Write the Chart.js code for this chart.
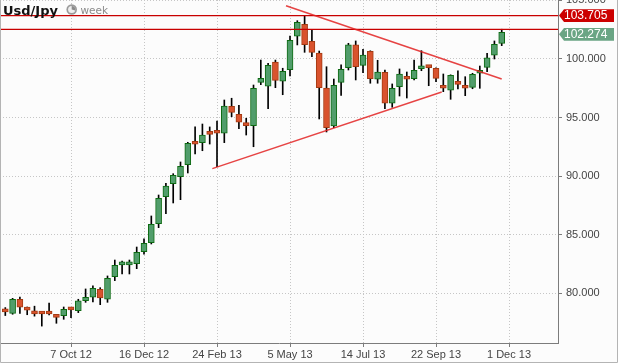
<!DOCTYPE html>
<html>
<head>
<meta charset="utf-8">
<script src="https://cdn.jsdelivr.net/npm/chart.js@4"></script>
<style>
  html, body { margin: 0; padding: 0; background: #fcfcfc; }
  #wrap { width: 618px; height: 363px; }
</style>
</head>
<body>
<div id="wrap"><canvas id="chart" width="618" height="363"></canvas></div>
<script>
// Weekly USD/JPY candles, week 0 = 5 Aug 2012
const opens  = [78.45, 78.29, 79.49, 78.64, 78.29, 78.29, 78.29, 78.02, 78.09, 78.64,
                78.52, 79.37, 79.66, 80.34, 79.49, 81.42, 82.42, 82.42, 82.53, 83.55,
                84.32, 85.94, 88.25, 89.36, 89.95, 90.98, 92.80, 92.86, 93.74, 93.83,
                93.66, 95.96, 95.28, 94.43, 94.31, 98.01, 97.67, 99.74, 98.10, 99.09,
                101.94, 102.96, 101.51, 100.51, 97.52, 94.28, 98.01, 99.26, 101.20, 99.46,
                100.66, 98.27, 98.86, 96.22, 97.64, 98.52, 98.32, 99.17, 99.40, 99.21,
                97.76, 97.33, 98.10, 97.76, 97.58, 98.78, 99.29, 100.32, 101.34];
const highs  = [78.78, 79.57, 79.68, 78.83, 78.90, 78.35, 79.17, 78.15, 78.83, 78.73,
                79.49, 80.37, 80.63, 80.48, 81.48, 82.84, 82.76, 82.84, 83.95, 84.64,
                86.60, 88.39, 89.39, 90.21, 91.21, 92.89, 94.20, 94.45, 94.20, 94.71,
                96.50, 96.65, 96.05, 94.94, 97.78, 99.91, 99.63, 99.91, 99.21, 101.96,
                103.27, 103.70, 102.47, 100.68, 99.34, 98.29, 99.50, 101.34, 101.54, 100.83,
                100.70, 99.89, 99.06, 97.87, 99.15, 98.89, 99.91, 100.71, 99.43, 99.25,
                98.72, 98.65, 98.98, 98.49, 98.78, 99.40, 100.49, 101.54, 102.54];
const lows   = [78.10, 78.21, 78.29, 78.17, 78.05, 77.20, 78.15, 77.44, 77.78, 77.92,
                78.35, 79.23, 79.26, 79.03, 79.23, 81.08, 81.65, 81.65, 82.10, 83.35,
                84.21, 85.60, 86.79, 87.71, 87.99, 90.27, 91.89, 92.17, 92.74, 90.81,
                92.86, 95.07, 94.05, 93.51, 92.51, 97.81, 95.76, 97.55, 96.95, 98.55,
                101.20, 100.57, 100.20, 94.88, 93.77, 94.14, 96.90, 99.06, 98.21, 98.83,
                97.93, 97.93, 95.76, 95.88, 96.84, 96.67, 98.21, 99.00, 97.72, 98.06,
                97.21, 96.56, 97.44, 96.87, 97.46, 97.50, 98.92, 100.00, 101.14];
const closes = [78.41, 79.49, 78.81, 78.57, 78.24, 78.23, 78.23, 77.95, 78.64, 78.58,
                79.35, 79.66, 80.43, 79.60, 81.28, 82.39, 82.48, 82.48, 83.50, 84.27,
                85.89, 88.11, 89.16, 90.07, 90.84, 92.80, 92.72, 93.51, 93.57, 93.66,
                95.99, 95.45, 94.60, 94.31, 97.50, 98.35, 99.46, 98.18, 98.95, 101.60,
                103.13, 101.22, 100.57, 97.55, 94.14, 97.76, 99.12, 101.20, 99.34, 100.34,
                98.32, 98.89, 96.22, 97.50, 98.72, 98.27, 99.04, 99.38, 99.26, 98.35,
                97.50, 98.61, 97.84, 97.50, 98.69, 99.04, 100.11, 101.25, 102.274];

const xTickWeeks  = [9, 19, 29, 39, 49, 59, 69];
const xTickLabels = ['7 Oct 12', '16 Dec 12', '24 Feb 13', '5 May 13', '14 Jul 13', '22 Sep 13', '1 Dec 13'];
const yTicks      = [80, 85, 90, 95, 100, 105];

// drawn lines: triangle sides (week, price) and horizontal levels
const supportLine    = [[28.36, 90.64], [59.78, 97.18]];
const resistanceLine = [[38.45, 104.55], [68.0, 98.29]];
const levelLines     = [103.705, 102.53];
const tagValues      = [103.705, 102.274];

const X_MIN = -0.726, X_MAX = 75.71;
const Y_MIN = 75.757, Y_MAX = 105.036;

const UP_FILL = '#519d6b', UP_LINE = '#0d6a12';
const DN_FILL = '#d9532e', DN_LINE = '#a33a12';
const GRID = '#c6c6c6', AXIS = '#7c7c7c', TEXT = '#444';

const weeks = opens.map((_, i) => i);
const isUp = i => closes[i] >= opens[i];

const pairLine = pts => pts.map(p => ({ x: p[0], y: p[1] }));

const overlay = {
  id: 'overlay',
  afterDraw(chart) {
    const ctx = chart.ctx;
    const y = chart.scales.y;
    ctx.save();

    // price tags on the right axis
    const tagColors = ['#cc0000', '#6aa584'];
    const tagShift = [0, 2];
    tagValues.forEach((v, k) => {
      const cy = y.getPixelForValue(v) + tagShift[k];
      const x0 = 558, h = 6.3;
      ctx.fillStyle = tagColors[k];
      ctx.beginPath();
      ctx.moveTo(x0 + 1, cy);
      ctx.lineTo(x0 + 6, cy - h);
      ctx.lineTo(614, cy - h);
      ctx.lineTo(614, cy + h);
      ctx.lineTo(x0 + 6, cy + h);
      ctx.closePath();
      ctx.fill();
      ctx.fillStyle = '#fff';
      ctx.font = '12px "Liberation Sans", Arial, sans-serif';
      ctx.textBaseline = 'middle';
      ctx.textAlign = 'left';
      ctx.fillText(v.toFixed(3), 564, cy + 0.5);
    });

    // title
    ctx.fillStyle = '#111';
    ctx.font = 'bold 13px "DejaVu Sans", sans-serif';
    ctx.textBaseline = 'alphabetic';
    ctx.fillText('Usd/Jpy', 3, 15);
    ctx.beginPath();
    ctx.arc(71.7, 9.5, 5.3, 0, Math.PI * 2);
    ctx.fillStyle = '#9a9a9a';
    ctx.fill();
    ctx.beginPath();
    ctx.arc(71.7, 9.5, 3.6, 0, Math.PI * 2);
    ctx.fillStyle = '#eeeeee';
    ctx.fill();
    ctx.beginPath();
    ctx.moveTo(71.7, 9.5);
    ctx.arc(71.7, 9.5, 3.6, -Math.PI / 2, 0.3);
    ctx.closePath();
    ctx.fillStyle = '#8a8a8a';
    ctx.fill();
    ctx.fillStyle = '#8a8a8a';
    ctx.font = '10.5px "DejaVu Sans", sans-serif';
    ctx.fillText('week', 80.5, 13.5);

    // frame
    ctx.strokeStyle = '#b4b4b4';
    ctx.lineWidth = 1;
    ctx.beginPath();
    ctx.moveTo(0.5, 0);
    ctx.lineTo(0.5, 362.5);
    ctx.lineTo(617.5, 362.5);
    ctx.lineTo(617.5, 0);
    ctx.stroke();
    ctx.restore();
  }
};

new Chart(document.getElementById('chart'), {
  type: 'bar',
  data: {
    datasets: [
      {
        type: 'line',
        data: pairLine(supportLine),
        borderColor: 'rgba(226,34,34,0.85)',
        borderWidth: 1.5,
        pointRadius: 0,
        order: 0
      },
      {
        type: 'line',
        data: pairLine(resistanceLine),
        borderColor: 'rgba(226,34,34,0.85)',
        borderWidth: 1.5,
        pointRadius: 0,
        order: 0
      },
      ...levelLines.map(v => ({
        type: 'line',
        data: [{ x: X_MIN, y: v }, { x: X_MAX, y: v }],
        borderColor: '#c80000',
        borderWidth: 1.3,
        pointRadius: 0,
        order: 0
      })),
      {
        // candle bodies
        data: weeks.map(i => ({ x: i, y: [opens[i], closes[i]] })),
        backgroundColor: weeks.map(i => isUp(i) ? UP_FILL : DN_FILL),
        borderColor: weeks.map(i => isUp(i) ? UP_LINE : DN_LINE),
        borderWidth: 1,
        borderSkipped: false,
        barThickness: 6,
        minBarLength: 3,
        grouped: false,
        order: 1
      },
      {
        // wicks
        data: weeks.map(i => ({ x: i, y: [lows[i], highs[i]] })),
        backgroundColor: '#000',
        borderWidth: 0,
        barThickness: 1,
        grouped: false,
        order: 2
      }
    ]
  },
  options: {
    responsive: false,
    animation: false,
    layout: { padding: 0 },
    plugins: { legend: { display: false }, tooltip: { enabled: false } },
    scales: {
      x: {
        type: 'linear',
        offset: false,
        min: X_MIN,
        max: X_MAX,
        afterBuildTicks: s => { s.ticks = xTickWeeks.map(v => ({ value: v })); },
        afterFit: s => { s.height = 20; s.paddingLeft = 0; s.paddingRight = 0; },
        grid: { color: GRID, tickColor: AXIS, tickLength: 4, offset: false },
        border: { color: AXIS, width: 1, dash: [1, 2] },
        ticks: {
          color: TEXT,
          padding: 1,
          maxRotation: 0,
          autoSkip: false,
          font: { family: '"Liberation Sans", Arial, sans-serif', size: 11 },
          callback: (v, i) => xTickLabels[i]
        }
      },
      y: {
        position: 'right',
        min: Y_MIN,
        max: Y_MAX,
        afterBuildTicks: s => { s.ticks = yTicks.map(v => ({ value: v })); },
        afterFit: s => { s.width = 60; s.paddingTop = 0; s.paddingBottom = 0; },
        grid: { color: GRID, tickColor: AXIS, tickLength: 4 },
        border: { color: AXIS, width: 1, dash: [1, 2] },
        ticks: {
          color: TEXT,
          padding: 4,
          font: { family: '"Liberation Sans", Arial, sans-serif', size: 11 },
          callback: v => v.toFixed(3)
        }
      }
    }
  },
  plugins: [overlay]
});
</script>
</body>
</html>
